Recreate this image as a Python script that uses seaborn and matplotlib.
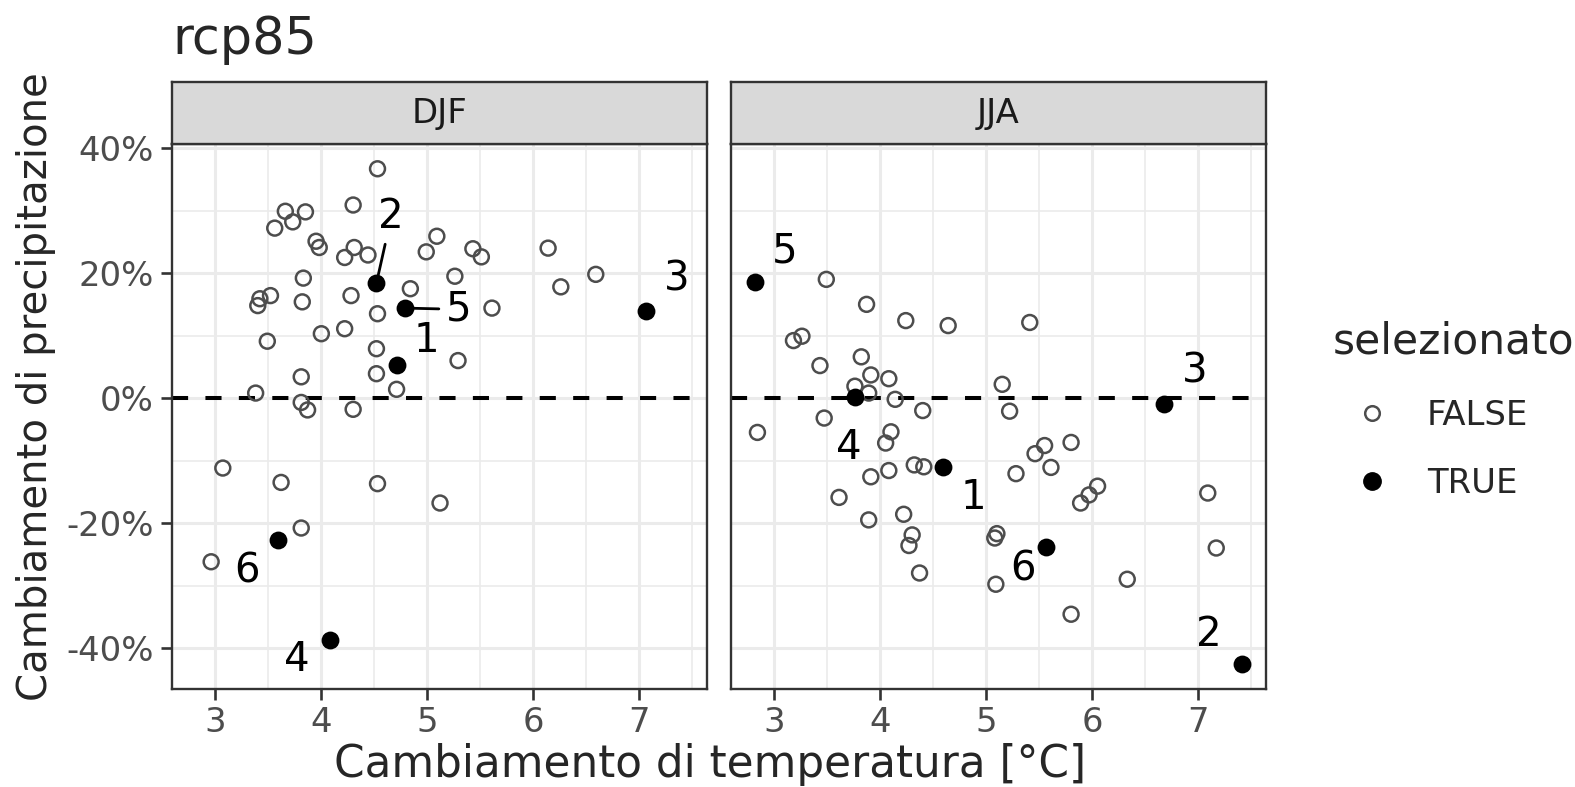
import matplotlib
matplotlib.use("Agg")
import matplotlib.pyplot as plt
import numpy as np
import pandas as pd
import seaborn as sns
from matplotlib.lines import Line2D

# ---- data ----
djf_temp = [4.53, 4.30, 3.66, 3.85, 3.73, 3.56, 3.95, 3.98, 4.31, 4.22,
            4.44, 5.09, 4.99, 3.83, 4.84, 4.28, 3.52, 3.42, 3.40, 3.82,
            4.53, 4.22, 4.00, 3.49, 4.52, 4.52, 3.81, 4.71, 3.38, 3.81,
            3.87, 4.30, 5.43, 5.51, 6.14, 5.26, 6.59, 6.26, 5.61, 5.29,
            3.07, 3.62, 4.53, 5.12, 3.81, 2.96,
            4.71, 4.52, 7.06, 4.08, 4.79, 3.59]
djf_prec = [36.7, 30.9, 29.9, 29.8, 28.2, 27.2, 25.1, 24.1, 24.1, 22.5,
            22.9, 25.9, 23.4, 19.2, 17.5, 16.4, 16.4, 15.9, 14.8, 15.4,
            13.5, 11.1, 10.3, 9.1, 7.9, 3.9, 3.4, 1.4, 0.8, -0.7,
            -1.9, -1.8, 23.9, 22.6, 24.0, 19.5, 19.8, 17.8, 14.4, 6.0,
            -11.2, -13.5, -13.7, -16.8, -20.8, -26.2,
            5.3, 18.4, 14.0, -38.8, 14.4, -22.7]
djf_label = [""] * 46 + ["1", "2", "3", "4", "5", "6"]

jja_temp = [3.49, 3.87, 4.24, 4.64, 5.41, 3.18, 3.26, 3.43, 3.82, 3.91,
            4.08, 3.76, 3.89, 4.14, 5.15, 3.47, 4.40, 5.22,
            2.84, 4.10, 4.05, 4.32, 4.41, 3.91, 4.08, 5.28, 3.61, 3.89,
            4.22, 4.30, 4.27, 5.10, 5.08, 4.37, 5.09,
            5.55, 5.46, 5.80, 5.61, 6.05, 5.97, 5.89, 7.09, 7.17, 6.33, 5.80,
            4.59, 7.41, 6.68, 3.76, 2.82, 5.56]
jja_prec = [19.0, 15.0, 12.4, 11.6, 12.1, 9.2, 9.9, 5.2, 6.6, 3.7,
            3.1, 1.9, 0.8, -0.2, 2.2, -3.2, -2.0, -2.1,
            -5.5, -5.4, -7.2, -10.7, -11.0, -12.6, -11.6, -12.1, -15.9, -19.5,
            -18.6, -21.9, -23.6, -21.7, -22.4, -28.0, -29.8,
            -7.6, -8.9, -7.1, -11.1, -14.1, -15.5, -16.8, -15.2, -24.0, -29.0, -34.6,
            -11.0, -42.6, -0.9, 0.2, 18.6, -23.9]
jja_label = [""] * 46 + ["1", "2", "3", "4", "5", "6"]

df = pd.concat([
    pd.DataFrame({"stagione": "DJF", "temp": djf_temp, "prec": djf_prec, "label": djf_label}),
    pd.DataFrame({"stagione": "JJA", "temp": jja_temp, "prec": jja_prec, "label": jja_label}),
])
df["selezionato"] = df["label"] != ""

# label placement (repel-like offsets, data units) and which get a segment
label_offset = {
    "DJF": {"1": (0.28, 3.8), "2": (0.14, 10.6), "3": (0.29, 5.0),
            "4": (-0.31, -3.1), "5": (0.51, -0.2), "6": (-0.29, -5.1)},
    "JJA": {"1": (0.29, -5.0), "2": (-0.31, 4.7), "3": (0.29, 5.2),
            "4": (-0.06, -8.2), "5": (0.28, 4.9), "6": (-0.21, -3.6)},
}
segment = {"DJF": ["2", "5"], "JJA": []}

# ---- style ----
sns.set_theme(style="white")
plt.rcParams["font.family"] = ["DejaVu Sans"]
plt.rcParams["axes.unicode_minus"] = False

BASE = 30.5
SMALL = 0.8 * BASE

W, H = 1575, 787
fig = plt.figure(figsize=(W / 100, H / 100), dpi=100)

def fx(px):
    return px / W

def fy(py):
    return 1 - py / H

panel_top, panel_bot, strip_top = 144, 689, 82
panels = {"DJF": (172, 707), "JJA": (731, 1266)}

xmin, xmax = df["temp"].min(), df["temp"].max()
ymin, ymax = df["prec"].min(), df["prec"].max()
xlim = (xmin - 0.05 * (xmax - xmin), xmax + 0.05 * (xmax - xmin))
ylim = (ymin - 0.05 * (ymax - ymin), ymax + 0.05 * (ymax - ymin))

for i, (season, (l, r)) in enumerate(panels.items()):
    ax = fig.add_axes([fx(l), fy(panel_bot), fx(r) - fx(l), fy(panel_top) - fy(panel_bot)])
    sub = df[df["stagione"] == season]
    ax.set_xlim(xlim)
    ax.set_ylim(ylim)
    ax.set_xticks([3, 4, 5, 6, 7])
    ax.set_xticks([3.5, 4.5, 5.5, 6.5, 7.5], minor=True)
    ax.set_yticks([-40, -20, 0, 20, 40])
    ax.set_yticks([-30, -10, 10, 30], minor=True)
    ax.grid(True, which="major", color="#EBEBEB", linewidth=2.2, zorder=0)
    ax.grid(True, which="minor", color="#EBEBEB", linewidth=1.2, zorder=0)
    ax.set_axisbelow(True)
    ax.axhline(0, color="black", linestyle=(0, (4, 4.3)), linewidth=2.9, zorder=1)

    sns.scatterplot(data=sub[~sub["selezionato"]], x="temp", y="prec", ax=ax,
                    s=115, facecolors="none", edgecolor="#4D4D4D", linewidth=1.8,
                    legend=False, zorder=2)
    sns.scatterplot(data=sub[sub["selezionato"]], x="temp", y="prec", ax=ax,
                    s=165, color="black", edgecolor="black", linewidth=0,
                    legend=False, zorder=3)

    for _, row in sub[sub["selezionato"]].iterrows():
        dx, dy = label_offset[season][row["label"]]
        kw = {}
        if row["label"] in segment[season]:
            kw["arrowprops"] = dict(arrowstyle="-", color="black", lw=2.0,
                                    shrinkA=3, shrinkB=5)
        ax.annotate(row["label"], xy=(row["temp"], row["prec"]),
                    xytext=(row["temp"] + dx, row["prec"] + dy),
                    ha="center", va="center", fontsize=29, color="black", **kw)

    ax.set_xlabel("")
    ax.set_ylabel("")
    for sp in ax.spines.values():
        sp.set_color("#333333")
        sp.set_linewidth(1.7)
    ax.tick_params(axis="both", which="major", length=8, width=1.9, color="#333333",
                   labelsize=SMALL, labelcolor="#4D4D4D", pad=5, direction="out",
                   bottom=True, left=(i == 0))
    ax.tick_params(axis="x", which="major", pad=4)
    ax.tick_params(which="minor", length=0)
    if i == 0:
        ax.set_yticklabels([f"{v}%" for v in [-40, -20, 0, 20, 40]])
    else:
        ax.set_yticklabels([])

    sax = fig.add_axes([fx(l), fy(panel_top), fx(r) - fx(l), fy(strip_top) - fy(panel_top)])
    sax.set_facecolor("#D9D9D9")
    sax.set_xticks([])
    sax.set_yticks([])
    for sp in sax.spines.values():
        sp.set_color("#333333")
        sp.set_linewidth(1.7)
    sax.text(0.5, 0.5, season, ha="center", va="center", fontsize=SMALL,
             color="#1A1A1A", transform=sax.transAxes)

fig.text(fx(172), fy(54), "rcp85", fontsize=1.2 * BASE, ha="left", va="baseline")
fig.text(fx(710), fy(777), "Cambiamento di temperatura [°C]", fontsize=31.5,
         ha="center", va="baseline")
fig.text(fx(36), fy(387), "Cambiamento di precipitazione", fontsize=29,
         ha="center", va="center", rotation=90)

# legend: title as text, keys through matplotlib's legend
fig.text(fx(1333), fy(353), "selezionato", fontsize=BASE, ha="left", va="baseline")
handles = [
    Line2D([], [], marker="o", linestyle="none", markersize=10.5, markerfacecolor="none",
           markeredgecolor="#4D4D4D", markeredgewidth=1.8, label="FALSE"),
    Line2D([], [], marker="o", linestyle="none", markersize=12.5, markerfacecolor="black",
           markeredgecolor="black", label="TRUE"),
]
fig.legend(handles=handles, loc="upper left", bbox_to_anchor=(fx(1347), fy(399)),
           frameon=False, fontsize=SMALL, handletextpad=0.88, labelspacing=1.02,
           borderpad=0, borderaxespad=0, handlelength=1.47)

fig.savefig("out.png", dpi=100, facecolor="white")
